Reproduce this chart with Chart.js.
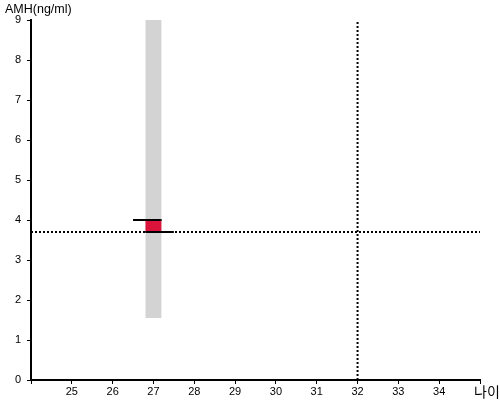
<!DOCTYPE html>
<html>
<head>
<meta charset="utf-8">
<script src="https://cdn.jsdelivr.net/npm/chart.js@4"></script>
<style>
html,body{margin:0;padding:0;background:#fff;}
canvas{display:block;}
</style>
</head>
<body>
<canvas id="c" width="500" height="400"></canvas>
<script>
// Data
const xRange = [24, 35];
const yRange = [0, 9];
const bandX = [26.8, 27.2];          // grey band (age range)
const bandY = [1.55, 9];             // grey band low/high AMH
const boxY = [3.7, 4.0];             // red box low/high
const topLineX = [26.5, 27.2];       // black line at 4.0
const topLineY = 4.0;
const botLineX = [26.8, 27.5];       // black line at 3.7
const botLineY = 3.7;
const refAge = 32;                   // vertical dotted line
const refAMH = 3.7;                  // horizontal dotted line
const yTitle = 'AMH(ng/ml)';
const xTitle = '나이';

const pts = (xs, y) => xs.map(x => ({x: x, y: y}));

const titles = {
  id: 'titles',
  afterDraw(chart) {
    const ctx = chart.ctx;
    ctx.save();
    ctx.fillStyle = '#000';
    ctx.font = '12.5px "Liberation Sans", Arial, sans-serif';
    ctx.textBaseline = 'middle';
    ctx.textAlign = 'left';
    ctx.fillText(yTitle, 5, 10);
    ctx.font = '14px "Noto Sans CJK KR", sans-serif';
    ctx.fillText(xTitle, 474, 392);
    ctx.restore();
  }
};

new Chart(document.getElementById('c'), {
  type: 'line',
  data: {
    datasets: [
      {data: pts(bandX, bandY[1]), borderWidth: 0, pointRadius: 0, fill: '+1', backgroundColor: '#d3d3d3', order: 5},
      {data: pts(bandX, bandY[0]), borderWidth: 0, pointRadius: 0, fill: false, order: 5},
      {data: pts(bandX, boxY[1]), borderWidth: 0, pointRadius: 0, fill: '+1', backgroundColor: '#dc143c', order: 4},
      {data: pts(bandX, boxY[0]), borderWidth: 0, pointRadius: 0, fill: false, order: 4},
      {data: pts(xRange, refAMH), borderColor: '#000', borderWidth: 2, borderDash: [2, 2], pointRadius: 0, fill: false, order: 3},
      {data: [{x: refAge, y: yRange[0]}, {x: refAge, y: yRange[1]}], borderColor: '#000', borderWidth: 2, borderDash: [2, 2], pointRadius: 0, fill: false, order: 3},
      {data: pts(topLineX, topLineY), borderColor: '#000', borderWidth: 2, pointRadius: 0, fill: false, order: 1},
      {data: pts(botLineX, botLineY), borderColor: '#000', borderWidth: 2, pointRadius: 0, fill: false, order: 1}
    ]
  },
  options: {
    responsive: false,
    animation: false,
    layout: {padding: {left: 0, top: 20, right: 20, bottom: 0}},
    plugins: {legend: {display: false}, tooltip: {enabled: false}},
    elements: {line: {tension: 0}},
    scales: {
      x: {
        type: 'linear', min: xRange[0], max: xRange[1],
        afterFit(s) { s.height = 20; },
        border: {display: true, color: '#000', width: 2},
        grid: {drawOnChartArea: false, drawTicks: true, tickLength: 4, color: '#000'},
        ticks: {
          stepSize: 1, color: '#000', padding: 1,
          font: {family: '"Liberation Sans", Arial, sans-serif', size: 11},
          callback: (v) => (v === xRange[0] || v === xRange[1]) ? '' : v
        }
      },
      y: {
        type: 'linear', min: yRange[0], max: yRange[1],
        afterFit(s) { s.width = 31; },
        border: {display: true, color: '#000', width: 2},
        grid: {drawOnChartArea: false, drawTicks: true, tickLength: 4, color: '#000'},
        ticks: {
          stepSize: 1, color: '#000', padding: 6,
          font: {family: '"Liberation Sans", Arial, sans-serif', size: 11}
        }
      }
    }
  },
  plugins: [titles]
});
</script>
</body>
</html>
